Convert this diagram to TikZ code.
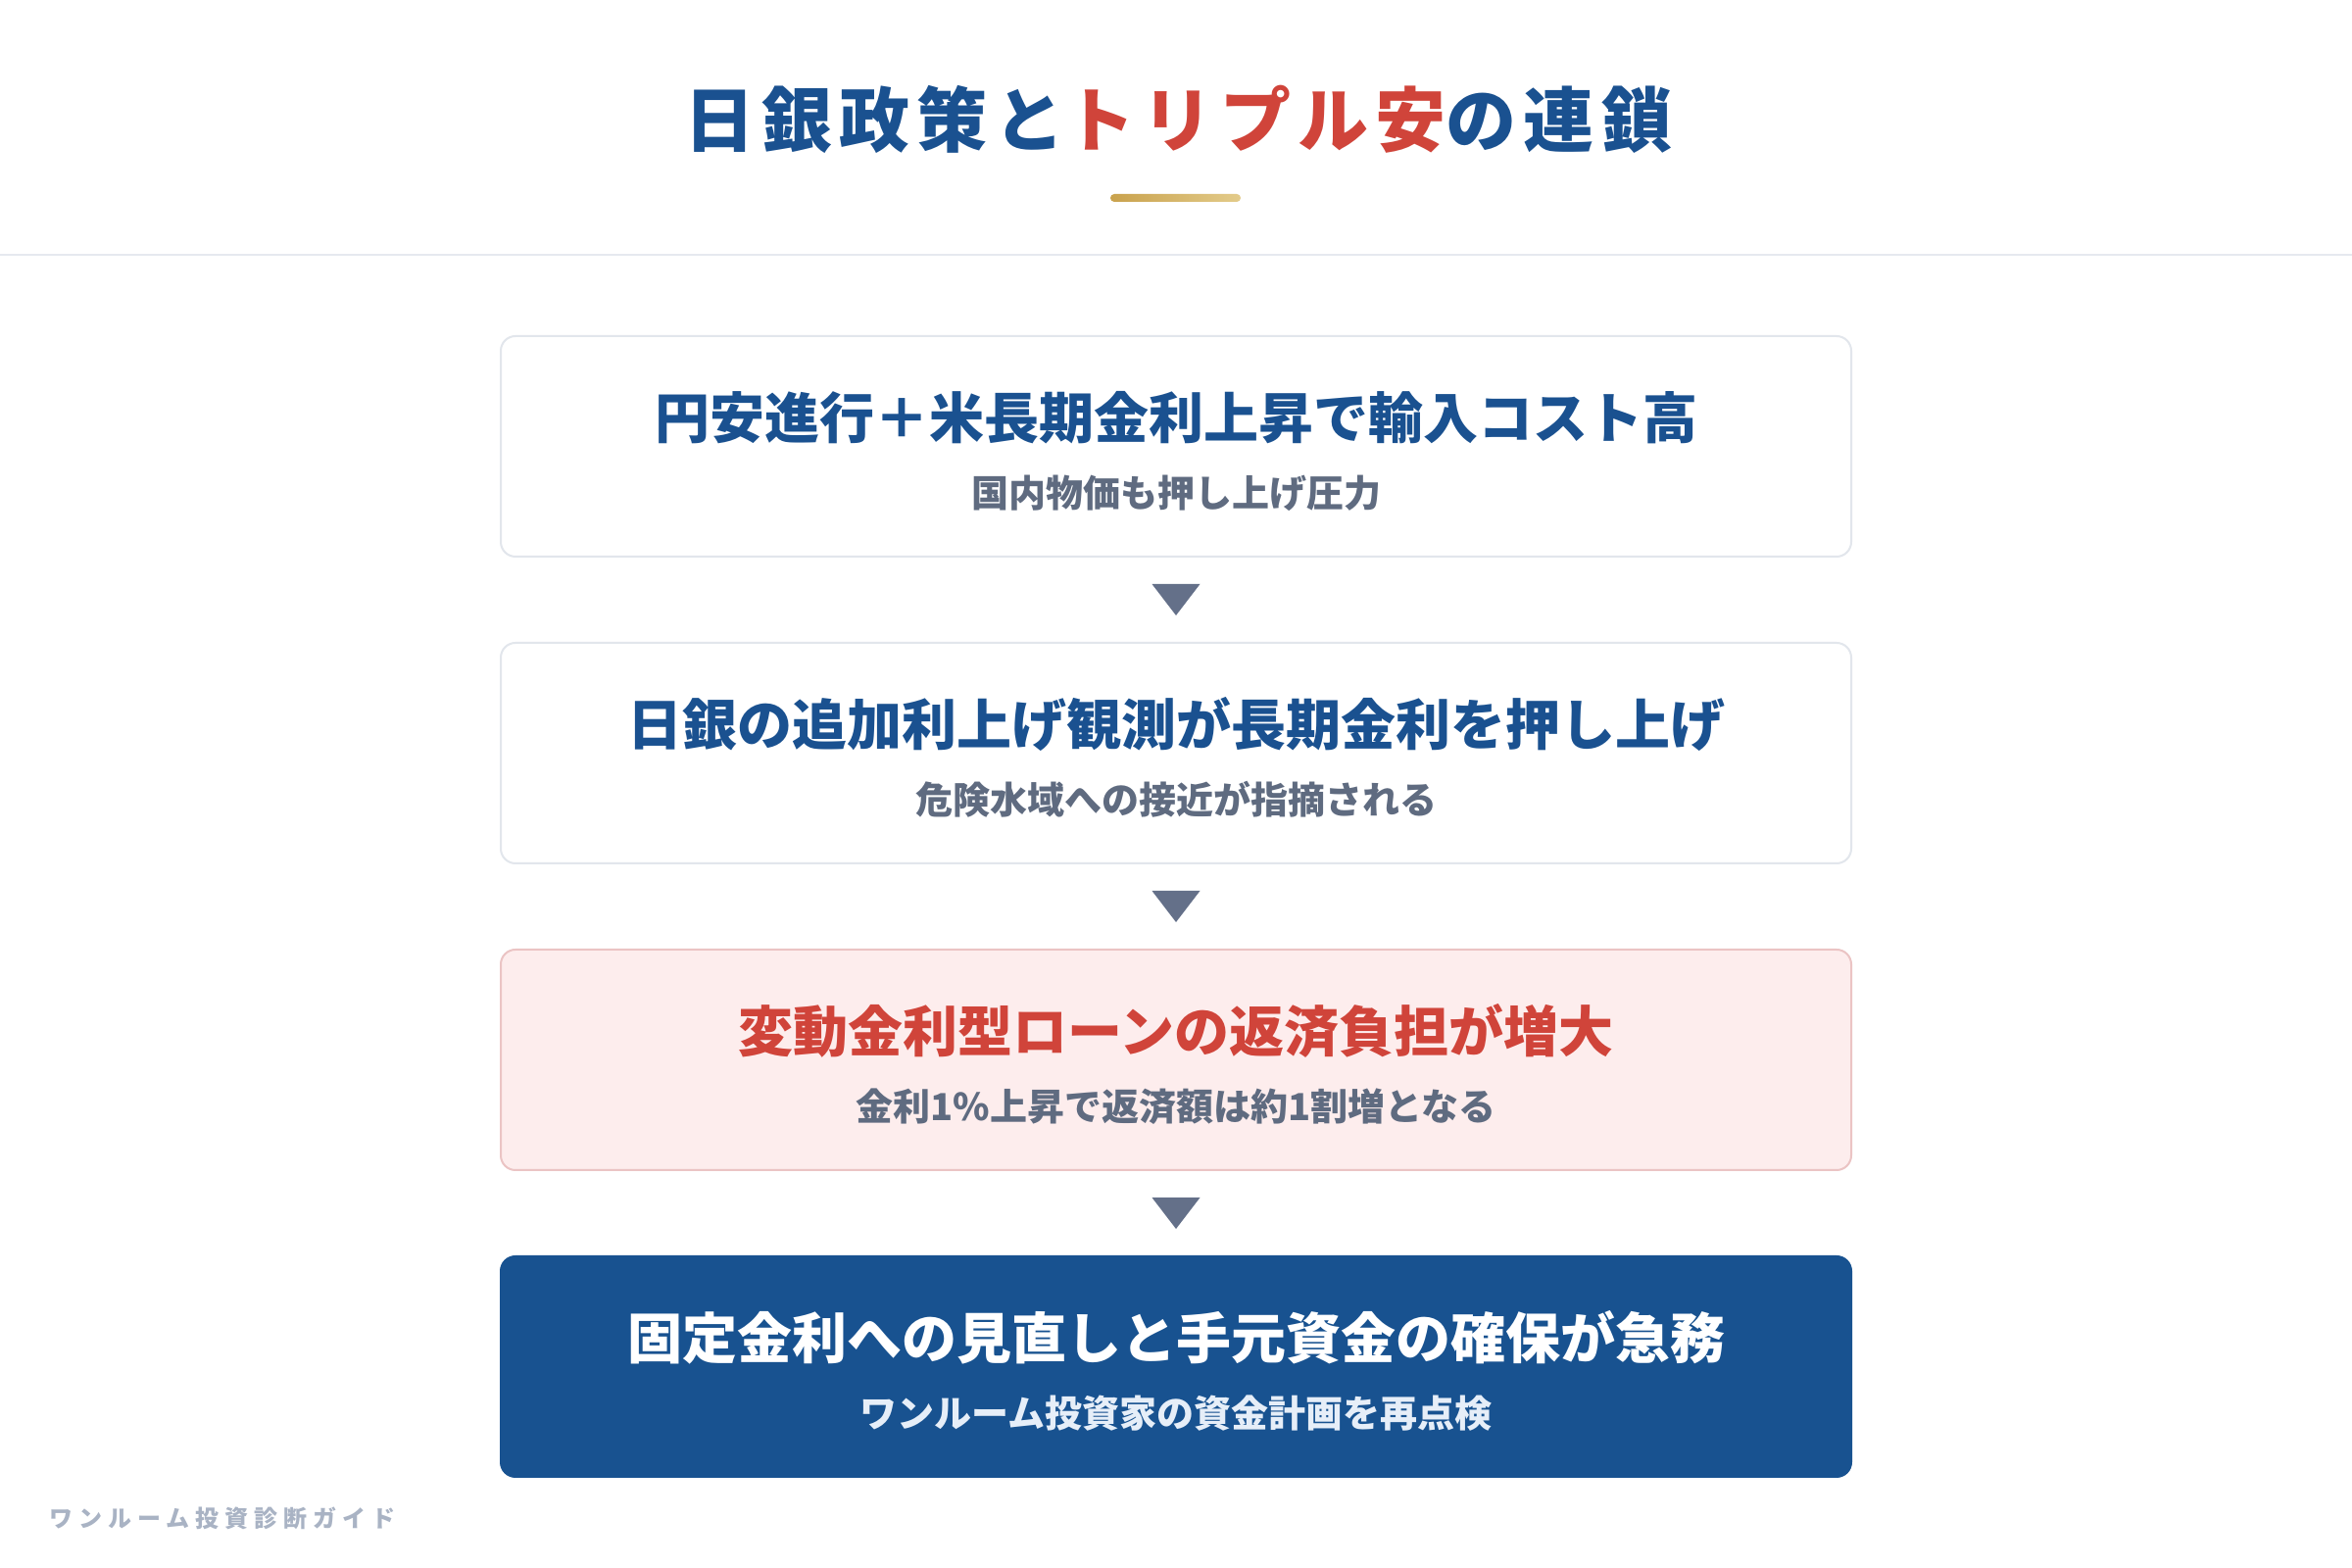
\documentclass[tikz,border=0pt]{standalone}
\usepackage{fontspec}
\setmainfont{Noto Sans CJK JP}
\newfontfamily\footfont{Noto Sans CJK JP}[LetterSpace=25]
\newfontfamily\titlefont{Noto Sans CJK JP}[LetterSpace=10]
\usepackage{xcolor}
\usetikzlibrary{positioning,calc}

\definecolor{titleblue}{HTML}{1A5190}
\definecolor{alertred}{HTML}{D0443A}
\definecolor{subgray}{HTML}{5F6B80}
\definecolor{boxline}{HTML}{E2E6EC}
\definecolor{pinkfill}{HTML}{FDEDED}
\definecolor{pinkline}{HTML}{EBC4C4}
\definecolor{navy}{HTML}{185290}
\definecolor{palesub}{HTML}{E6EEF8}
\definecolor{trigray}{HTML}{647089}
\definecolor{footgray}{HTML}{A9B3C4}
\definecolor{goldA}{HTML}{C9A24D}
\definecolor{goldB}{HTML}{E3CB8A}
\definecolor{rulegray}{HTML}{E6E9EF}

\tikzset{
  flowbox/.style={rectangle, rounded corners=7.5pt, minimum width=689pt,
    minimum height=112.5pt, line width=1pt, draw=boxline, fill=white},
  alertbox/.style={flowbox, draw=pinkline, fill=pinkfill},
  finalbox/.style={flowbox, draw=navy, fill=navy},
  headtext/.style={font=\fontsize{28pt}{32pt}\selectfont\bfseries, text=titleblue, inner sep=0pt},
  subtext/.style={font=\fontsize{19pt}{22pt}\selectfont\bfseries, text=subgray, inner sep=0pt},
  downtri/.style={fill=trigray}
}

\begin{document}
\begin{tikzpicture}
    \useasboundingbox (0,0) rectangle (1200pt,800pt);
    \fill[white] (0,0) rectangle (1200pt,800pt);

    % Title
    \node[inner sep=0pt, font=\titlefont\fontsize{36pt}{40pt}\selectfont\bfseries] (title) at (601pt,739pt)
      {\textcolor{titleblue}{日銀政策と}\textcolor{alertred}{トリプル安}\textcolor{titleblue}{の連鎖}};
    \shade[left color=goldA, right color=goldB, rounded corners=2pt] (566.5pt,697pt) rectangle (633pt,701pt);
    \draw[rulegray, line width=1pt] (0,670pt) -- (1200pt,670pt);

    % Boxes
    \node[flowbox] (box1) at (600pt,572.25pt) {};
    \node[flowbox] (box2) at (600pt,415.75pt) {};
    \node[alertbox] (box3) at (600pt,259.25pt) {};
    \node[finalbox] (box4) at (600pt,102.75pt) {};

    % Texts
    \node[headtext] (head1) at ([yshift=14.75pt]box1.center) {円安進行＋米長期金利上昇で輸入コスト高};
    \node[subtext] (sub1) at ([yshift=-23.75pt]box1.center) {国内物価も押し上げ圧力};
    \node[headtext] (head2) at ([yshift=14.75pt]box2.center) {日銀の追加利上げ観測が長期金利を押し上げ};
    \node[subtext] (sub2) at ([yshift=-23.75pt]box2.center) {危険水域への接近が指摘される};
    \node[headtext, text=alertred] (head3) at ([yshift=14.75pt]box3.center) {変動金利型ローンの返済負担が増大};
    \node[subtext] (sub3) at ([yshift=-23.75pt]box3.center) {金利1\%上昇で返済額は約1割増となる};
    \node[headtext, text=white] (head4) at ([yshift=14.75pt]box4.center) {固定金利への見直しと手元資金の確保が急務};
    \node[subtext, text=palesub] (sub4) at ([yshift=-23.75pt]box4.center) {ワンルーム投資家の資金計画を再点検};

    % Arrows between boxes
    \coordinate (m12) at ($(box1.south)!0.5!(box2.north)$);
    \coordinate (m23) at ($(box2.south)!0.5!(box3.north)$);
    \coordinate (m34) at ($(box3.south)!0.5!(box4.north)$);
    \fill[downtri] ([xshift=-12.25pt,yshift=8pt]m12) -- ++(24.5pt,0) -- ++(-12.25pt,-16pt) -- cycle;
    \fill[downtri] ([xshift=-12.25pt,yshift=8pt]m23) -- ++(24.5pt,0) -- ++(-12.25pt,-16pt) -- cycle;
    \fill[downtri] ([xshift=-12.25pt,yshift=8pt]m34) -- ++(24.5pt,0) -- ++(-12.25pt,-16pt) -- cycle;

    % Footer
    \node[anchor=west, inner sep=0pt, text=footgray, font=\footfont\fontsize{12pt}{14pt}\selectfont\bfseries] (footer) at (25pt,25.5pt) {ワンルーム投資診断ガイド};
\end{tikzpicture}
\end{document}
